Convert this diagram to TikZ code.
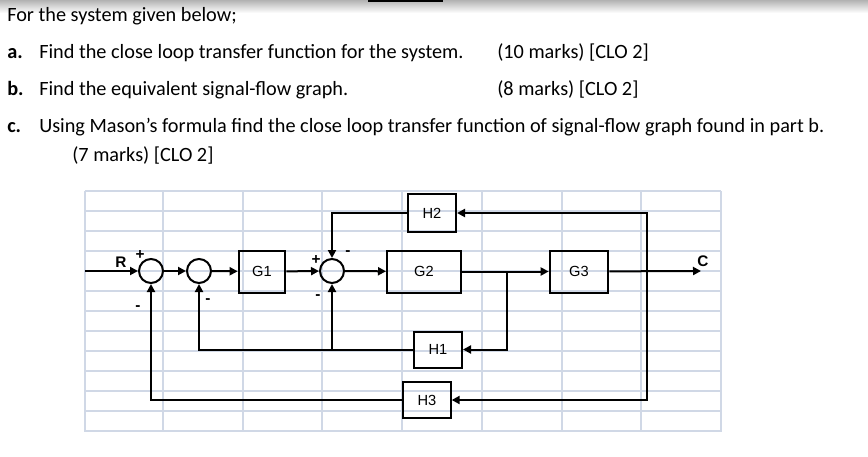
\documentclass[tikz,border=0pt]{standalone}
\usepackage{fontspec}
\setmainfont{Carlito}
\newfontfamily\diagfont{Liberation Sans}
\usetikzlibrary{arrows.meta}
\tikzset{
	blk/.style={draw, line width=1.5pt, inner sep=0pt, font=\diagfont\fontsize{11}{13}\selectfont},
	sumpt/.style={draw, circle, line width=1.5pt, minimum size=18pt, inner sep=0pt},
	sgn/.style={font=\diagfont\bfseries\fontsize{11.5}{13}\selectfont, inner sep=0pt},
	sig/.style={line width=1.5pt, -{Triangle[length=6pt,width=6pt]}},
	gridln/.style={line width=1.1pt, draw={rgb,255:red,208;green,216;blue,230}},
	txt/.style={anchor=base west, inner sep=0pt, font=\fontsize{15.2}{18}\selectfont}
}

\begin{document}
\begin{tikzpicture}[x=0.75pt,y=-0.75pt]

		\fill [white] (0,0) rectangle (868,457);
		\useasboundingbox (0,0) rectangle (868,457);
		\shade [top color=gray!60, bottom color=white] (0,0) rectangle (868,13);
		\fill [black] (368,0) rectangle (443,2);

		% question text
		\node [txt] (intro) at (7,21) {For the system given below;};
		\node [txt] (qa) at (7,58) {\textbf{a.}};
		\node [txt] (qatext) at (39,58) {Find the close loop transfer function for the system.};
		\node [txt] (qamark) at (497,58) {(10 marks) [CLO 2]};
		\node [txt] (qb) at (7,95) {\textbf{b.}};
		\node [txt] (qbtext) at (39,95) {Find the equivalent signal-flow graph.};
		\node [txt] (qbmark) at (497,95) {(8 marks) [CLO 2]};
		\node [txt] (qc) at (7,132) {\textbf{c.}};
		\node [txt] (qctext) at (39,132) {Using Mason’s formula find the close loop transfer function of signal-flow graph found in part b.};
		\node [txt] (qcmark) at (72,161) {(7 marks) [CLO 2]};

		% grid
		\foreach \gx in {85,163,243,322,402,482,562,641,721}
			\draw [gridln] (\gx,191) -- (\gx,432);
		\foreach \gy in {191,211,...,431}
			\draw [gridln] (85,\gy) -- (721,\gy);

		% blocks and summing points
		\node [sumpt] (s1) at (151,271) {};
		\node [sumpt] (s2) at (199,271) {};
		\node [sumpt] (s3) at (332,271) {};
		\node [blk, minimum width=35pt, minimum height=31.5pt] (g1) at (262,271.5) {G1};
		\node [blk, minimum width=55.5pt, minimum height=31.5pt] (g2) at (424,271.5) {G2};
		\node [blk, minimum width=44pt, minimum height=31.5pt] (g3) at (579,271.5) {G3};
		\node [blk, minimum width=36pt, minimum height=28.5pt] (h2) at (432,213) {H2};
		\node [blk, minimum width=36pt, minimum height=27pt] (h1) at (438,349.5) {H1};
		\node [blk, minimum width=35.5pt, minimum height=27pt] (h3) at (427,400) {H3};

		\coordinate (rin) at (85,271);
		\coordinate (cout) at (701,271);
		\coordinate (t1) at (507,271);
		\coordinate (t2) at (647,271);
		\coordinate (j1) at (332,349.5);

		% forward path
		\draw [sig] (rin) -- (s1.west);
		\draw [sig] (s1) -- (s2);
		\draw [sig] (s2) -- (g1);
		\draw [sig] (g1) -- (s3);
		\draw [sig] (s3) -- (g2);
		\draw [sig] (g2) -- (g3);
		\draw [sig] (g3) -- (cout);

		% feedback paths
		\draw [sig] (t2) |- (h2.east);
		\draw [sig] (t2) |- (h3.east);
		\draw [sig] (t1) |- (h1.east);
		\draw [sig] (h2.west) -| (s3.north);
		\draw [sig] (h1.west) -| (s3.south);
		\draw [sig] (j1) -| (s2.south);
		\draw [sig] (h3.west) -| (s1.south);

		% labels
		\node [sgn] (rlab) at (121,262) {R};
		\node [sgn] (clab) at (703,261) {C};
		\node [sgn] (p1) at (140,255) {+};
		\node [sgn] (m1) at (138,308) {-};
		\node [sgn] (m2) at (208,301) {-};
		\node [sgn] (p3) at (316,260) {+};
		\node [sgn] (m3a) at (348,253) {-};
		\node [sgn] (m3b) at (318,297) {-};

	\end{tikzpicture}
\end{document}
